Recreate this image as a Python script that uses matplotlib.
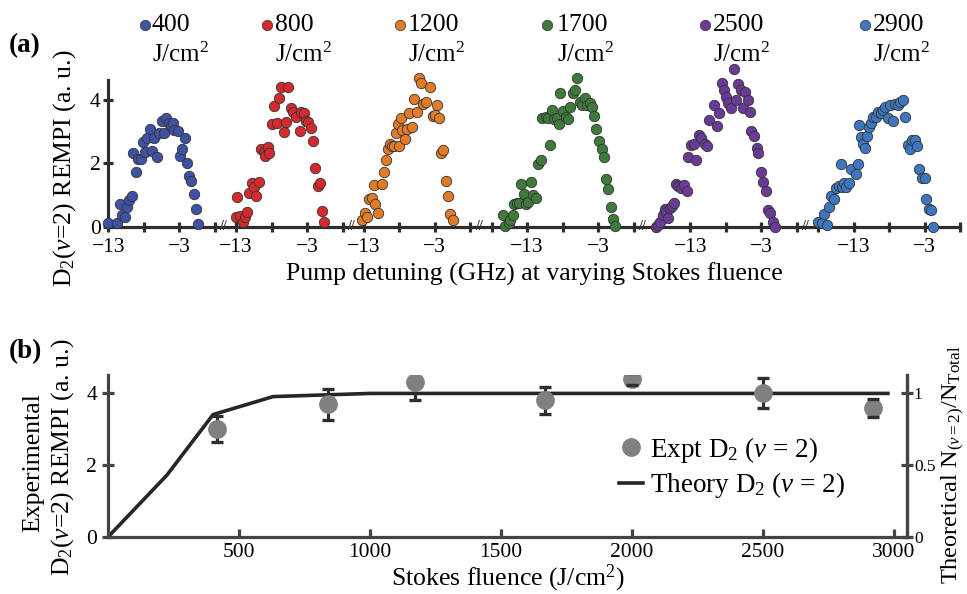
import matplotlib
matplotlib.use("Agg")
import matplotlib.pyplot as plt
from matplotlib.lines import Line2D

plt.rcParams['font.family'] = ['Liberation Serif', 'DejaVu Serif']
plt.rcParams['mathtext.fontset'] = 'custom'
plt.rcParams['mathtext.rm'] = 'Liberation Serif'
plt.rcParams['mathtext.it'] = 'Liberation Serif:italic'
plt.rcParams['mathtext.bf'] = 'Liberation Serif:bold'

# ---------------- data: REMPI scans vs pump detuning (GHz) ----------------
fluence_labels = ["400", "800", "1200", "1700", "2500", "2900"]
colors = ["#3f51a3", "#d42a2d", "#e07b26", "#3e7b3b", "#6a3a97", "#3e77c0"]

det_400 = [-13.0, -11.8, -11.3, -11.0, -10.7, -10.4, -10.1, -9.7, -9.5, -9.1, -8.8, -8.4,
           -8.1, -7.8, -7.6, -7.1, -6.9, -6.5, -6.2, -5.8, -5.5, -5.2, -4.8, -4.5, -4.2,
           -3.9, -3.7, -3.2, -2.9, -2.6, -2.2, -1.9, -1.7, -1.3, -0.9, -0.6, -0.3]
rempi_400 = [0.10, 0.12, 0.70, 0.36, 0.31, 0.61, 0.84, 0.98, 2.32, 1.74, 2.13, 2.15,
             2.69, 2.38, 2.80, 3.08, 2.40, 2.82, 2.20, 2.96, 3.35, 2.96, 3.43, 3.29, 3.19,
             3.29, 3.06, 3.03, 2.24, 2.45, 2.80, 2.03, 1.60, 1.45, 1.03, 0.55, 0.08]

det_800 = [-13.0, -12.5, -12.05, -11.8, -11.4, -12.8, -11.2, -10.8, -10.5, -10.2, -9.8,
           -9.5, -9.1, -8.9, -8.5, -8.3, -8.0, -7.7, -7.3, -7.0, -6.6, -6.3, -5.9, -5.7,
           -5.3, -5.0, -4.5, -4.0, -3.8, -3.4, -3.1, -2.8, -2.5, -2.1, -1.9, -1.5, -1.2,
           -0.9, -0.6]
rempi_800 = [0.31, 0.33, 0.15, 0.31, 0.47, 0.93, 1.05, 1.39, 1.26, 0.98, 1.42,
             2.46, 2.38, 2.24, 2.53, 2.32, 3.26, 3.83, 3.28, 4.07, 4.44, 3.00, 3.32, 4.42,
             3.75, 3.65, 3.49, 3.04, 3.65, 3.59, 3.36, 3.33, 3.14, 2.71, 1.85, 1.27, 1.37,
             0.49, 0.15]

det_1200 = [-13.2, -12.9, -12.6, -12.3, -11.9, -11.4, -11.0, -11.6, -10.5, -10.2, -9.9,
            -9.6, -9.3, -9.0, -8.7, -8.4, -8.0, -8.2, -7.8, -7.6, -7.2, -6.9, -6.6, -6.2,
            -5.9, -5.5, -5.2, -4.9, -4.6, -4.3, -3.7, -3.3, -2.9, -2.7, -2.4, -2.1, -1.8,
            -1.4, -1.1, -0.8, -0.5]
rempi_1200 = [0.21, 0.44, 0.29, 0.87, 0.89, 0.71, 0.44, 1.31, 1.35, 1.72, 2.11,
              2.46, 2.62, 2.56, 2.54, 2.98, 2.54, 3.25, 3.43, 3.06, 2.77, 3.08, 3.59, 3.15,
              4.04, 3.65, 4.71, 4.57, 3.89, 3.96, 4.44, 3.51, 3.54, 3.86, 3.43, 2.34, 2.43,
              1.46, 0.97, 0.40, 0.21]

det_1700 = [-16.4, -16.1, -15.6, -15.4, -15.0, -14.8, -14.4, -14.1, -13.8, -13.5, -13.1,
            -12.8, -12.4, -12.2, -11.8, -11.5, -11.1, -9.8, -10.9, -10.4, -10.1, -9.5, -9.2,
            -8.8, -8.5, -8.3, -7.9, -7.5, -7.2, -6.9, -6.5, -6.2, -5.9, -5.6, -5.3, -4.9,
            -4.6, -4.2, -3.9, -3.6, -3.3, -2.9, -2.5, -2.2, -1.9, -1.6, -1.2, -0.9, -0.6]
rempi_1700 = [0.35, 0.02, 0.12, 0.21, 0.35, 0.72, 0.74, 0.74, 1.35, 1.02, 0.72,
              0.77, 1.42, 1.00, 0.92, 1.98, 2.11, 2.59, 3.43, 3.49, 3.43, 3.70, 3.41,
              3.43, 3.25, 4.23, 3.68, 3.49, 3.40, 3.80, 4.23, 4.33, 4.70, 3.96, 3.86, 4.07,
              3.86, 3.91, 3.80, 3.52, 3.09, 2.71, 2.45, 2.20, 1.50, 1.19, 0.61, 0.24, 0.02]

det_2500 = [-17.9, -17.5, -17.2, -16.9, -16.6, -16.4, -16.1, -15.9, -15.6, -15.3, -15.0,
            -14.7, -14.3, -13.9, -13.5, -13.3, -12.9, -12.5, -12.2, -11.8, -11.5, -10.9,
            -10.6, -10.3, -9.7, -9.3, -9.0, -8.6, -8.3, -8.0, -7.7, -7.3, -6.9, -6.6, -6.3,
            -5.9, -5.6, -5.3, -4.9, -4.6, -4.4, -4.0, -3.6, -3.4, -3.0, -2.8, -2.4, -2.0,
            -1.8, -1.4, -1.0]
rempi_2500 = [0.0, 0.05, 0.13, 0.37, 0.56, 0.47, 0.28, 0.60, 0.66, 0.74, 1.34,
              1.27, 1.23, 1.32, 1.13, 2.22, 2.59, 2.61, 2.11, 2.90, 2.82, 2.61,
              2.57, 3.38, 3.86, 3.20, 3.59, 4.54, 4.33, 4.12, 3.91, 3.75, 5.00, 4.02, 4.51,
              4.33, 3.75, 4.26, 4.02, 3.62, 3.03, 2.87, 2.50, 2.33, 1.72, 1.40, 1.13, 0.52,
              0.42, 0.13, 0.0]

det_2900 = [-18.0, -17.5, -17.1, -16.8, -16.4, -16.2, -15.8, -15.5, -15.1, -14.8, -14.6,
            -14.3, -14.0, -13.6, -13.3, -12.7, -12.4, -12.2, -12.0, -11.7, -11.4, -11.1,
            -10.8, -10.5, -10.2, -9.9, -9.5, -9.1, -8.8, -8.5, -8.1, -7.9, -7.4, -7.1, -6.7,
            -6.4, -6.0, -5.8, -5.3, -5.1, -4.8, -4.4, -4.1, -3.8, -3.4, -3.0, -2.8, -2.4,
            -2.1, -1.8]
rempi_2900 = [0.15, 0.12, 0.40, 0.05, 0.61, 0.97, 0.87, 1.21, 1.29, 1.98, 1.24,
              1.37, 1.26, 1.39, 1.81, 1.67, 1.98, 3.22, 2.83, 2.62, 2.48, 2.88,
              3.17, 3.30, 3.46, 3.49, 3.65, 3.59, 3.70, 3.78, 3.43, 3.86, 3.36, 3.89, 3.86,
              3.96, 4.01, 3.49, 2.59, 2.45, 2.75, 2.75, 2.54, 1.82, 1.55, 1.55, 0.86, 0.54,
              0.52, 0.0]

scan_det = [det_400, det_800, det_1200, det_1700, det_2500, det_2900]
scan_rempi = [rempi_400, rempi_800, rempi_1200, rempi_1700, rempi_2500, rempi_2900]

# ---------------- data: D2(v=2) yield vs Stokes fluence ----------------
stokes_fluence = [416, 840, 1172, 1668, 2000, 2500, 2920]
expt_rempi = [3.00, 3.69, 4.30, 3.80, 4.39, 4.00, 3.58]
expt_err = [0.36, 0.43, 0.50, 0.38, 0.17, 0.41, 0.25]
theory_fluence = [0, 225, 401, 630, 1000, 1500, 2000, 2500, 2977]
theory_frac = [0.0, 0.43, 0.85, 0.975, 0.997, 0.997, 0.997, 0.997, 0.997]

# ---------------- layout of the broken detuning axis ----------------
# each scan is drawn on its own stretch of one shared axis; u = origin + detuning + 13
seg_origin = [0, 18, 36, 59, 82, 105]
seg_ticks = [[-13, -8, -3, 2]] * 3 + [[-18, -13, -8, -3, 2]] * 3
break_at = 3.2

INK = "#2e2e2e"
SPINE_W = 2.3
LABEL_FS = 18.5
TICK_FS = 15.5

fig = plt.figure(figsize=(9.67, 5.94), dpi=100)
W, H = 967, 594


def px_axes(x0, y0, x1, y1):
    return fig.add_axes([x0 / W, 1 - y1 / H, (x1 - x0) / W, (y1 - y0) / H])


# ---------------- panel (a) ----------------
axa = px_axes(108.3, 80, 960, 226.5)
for k in range(6):
    u = [seg_origin[k] + d + 13 for d in scan_det[k]]
    axa.scatter(u, scan_rempi[k], s=56, color=colors[k], edgecolor="#333333",
                linewidth=0.6, zorder=3, clip_on=False)

ticks, labels = [], []
for k in range(6):
    for t in seg_ticks[k]:
        ticks.append(seg_origin[k] + t + 13)
        labels.append("\u2212" + str(abs(t)) if t in (-13, -3) else "")
    if k < 5:
        axa.text(seg_origin[k] + break_at + 13, 0, "//", fontsize=10, fontweight="bold",
                 ha="center", va="center", color=INK, zorder=4)
axa.set_xticks(ticks)
axa.set_xticklabels(labels)
axa.set_xlim(0, 120)
axa.set_ylim(0, 4.65)
axa.set_yticks([0, 2, 4])
for s in ("top", "right"):
    axa.spines[s].set_visible(False)
for s in ("left", "bottom"):
    axa.spines[s].set_linewidth(SPINE_W)
    axa.spines[s].set_color(INK)
axa.tick_params(axis="both", direction="inout", length=7, width=2.3, color=INK,
                labelsize=TICK_FS, pad=2)
axa.tick_params(axis="x", pad=5)
axa.set_xlabel("Pump detuning (GHz) at varying Stokes fluence", fontsize=LABEL_FS,
               labelpad=4)
fig.text(65 / W, 1 - 168 / H, r"D$_2$($v$=2) REMPI (a. u.)", rotation=90,
         ha="center", va="center", fontsize=LABEL_FS)
fig.text(9 / W, 1 - 46 / H, "(a)", fontsize=19.5, fontweight="bold", ha="left", va="center")

# fluence key above the scans
dot_x = [145, 267, 400, 547, 705, 865]
txt_x = [152, 275, 408, 557, 713, 873]
for k in range(6):
    fig.add_artist(Line2D([dot_x[k] / W], [1 - 25 / H], marker="o", markersize=7.5,
                          color=colors[k], markeredgecolor="#333333",
                          markeredgewidth=0.5, linestyle="none"))
    fig.text(txt_x[k] / W, 1 - 25 / H, fluence_labels[k], fontsize=18.5,
             ha="left", va="center")
    fig.text(txt_x[k] / W, 1 - 55 / H, r"J/cm$^2$", fontsize=18,
             ha="left", va="center")

# ---------------- panel (b) ----------------
axb = px_axes(108, 375, 907, 537)
eb = axb.errorbar(stokes_fluence, expt_rempi, yerr=expt_err, fmt="none", ecolor=INK,
                  elinewidth=2.2, capsize=4, capthick=2.4, zorder=2)
for cap in eb[1]:
    cap.set_zorder(4)
expt_pts, = axb.plot(stokes_fluence, expt_rempi, "o", color="#808080", markersize=12.5,
                     zorder=3, label=r"Expt D$_2$ ($v$ = 2)")
axb.set_xlim(0, 3050)
axb.set_ylim(0, 4.5)
axb.set_xticks([500, 1000, 1500, 2000, 2500, 3000])
axb.set_yticks([0, 2, 4])
axb.spines["top"].set_visible(False)
for s in ("left", "bottom", "right"):
    axb.spines[s].set_linewidth(SPINE_W)
    axb.spines[s].set_color("#444444")
axb.tick_params(axis="both", direction="in", length=6, width=2.3, color="#444444",
                labelsize=TICK_FS, pad=4)
axb.tick_params(axis="y", direction="inout", length=8)
axb.set_xlabel(r"Stokes fluence (J/cm$^2$)", fontsize=LABEL_FS, labelpad=1)
fig.text(33 / W, 1 - 463 / H, "Experimental", rotation=90, ha="center", va="center",
         fontsize=LABEL_FS)
fig.text(63 / W, 1 - 457 / H, r"D$_2$($v$=2) REMPI (a. u.)", rotation=90,
         ha="center", va="center", fontsize=LABEL_FS)

axr = axb.twinx()
theory_line, = axr.plot(theory_fluence, theory_frac, color="#262626", linewidth=2.6,
                        zorder=1, label=r"Theory D$_2$ ($v$ = 2)")
axr.set_ylim(0, 1.125)
axr.set_yticks([0, 0.5, 1])
axr.set_yticklabels(["0", "0.5", "1"])
for s in ("top", "left", "bottom"):
    axr.spines[s].set_visible(False)
axr.spines["right"].set_linewidth(SPINE_W)
axr.spines["right"].set_color("#444444")
axr.tick_params(axis="y", direction="inout", length=8, width=2.3, color="#444444",
                labelsize=12.5, pad=1)
fig.text(953 / W, 1 - 465 / H, r"Theoretical N$_{(v=2)}$/N$_{\rm Total}$", rotation=90,
         ha="center", va="center", fontsize=17.5)
axb.set_zorder(axr.get_zorder() + 1)
axb.patch.set_visible(False)

handles = [expt_pts, theory_line]
axb.legend(handles, [h.get_label() for h in handles], loc="center left",
           bbox_to_anchor=(0.622, 0.43), frameon=False, fontsize=19.5,
           handlelength=0.9, handletextpad=0.25, labelspacing=0.2, borderpad=0)

fig.text(9 / W, 1 - 352 / H, "(b)", fontsize=19.5, fontweight="bold", ha="left", va="center")

fig.savefig("out.png", dpi=100)
